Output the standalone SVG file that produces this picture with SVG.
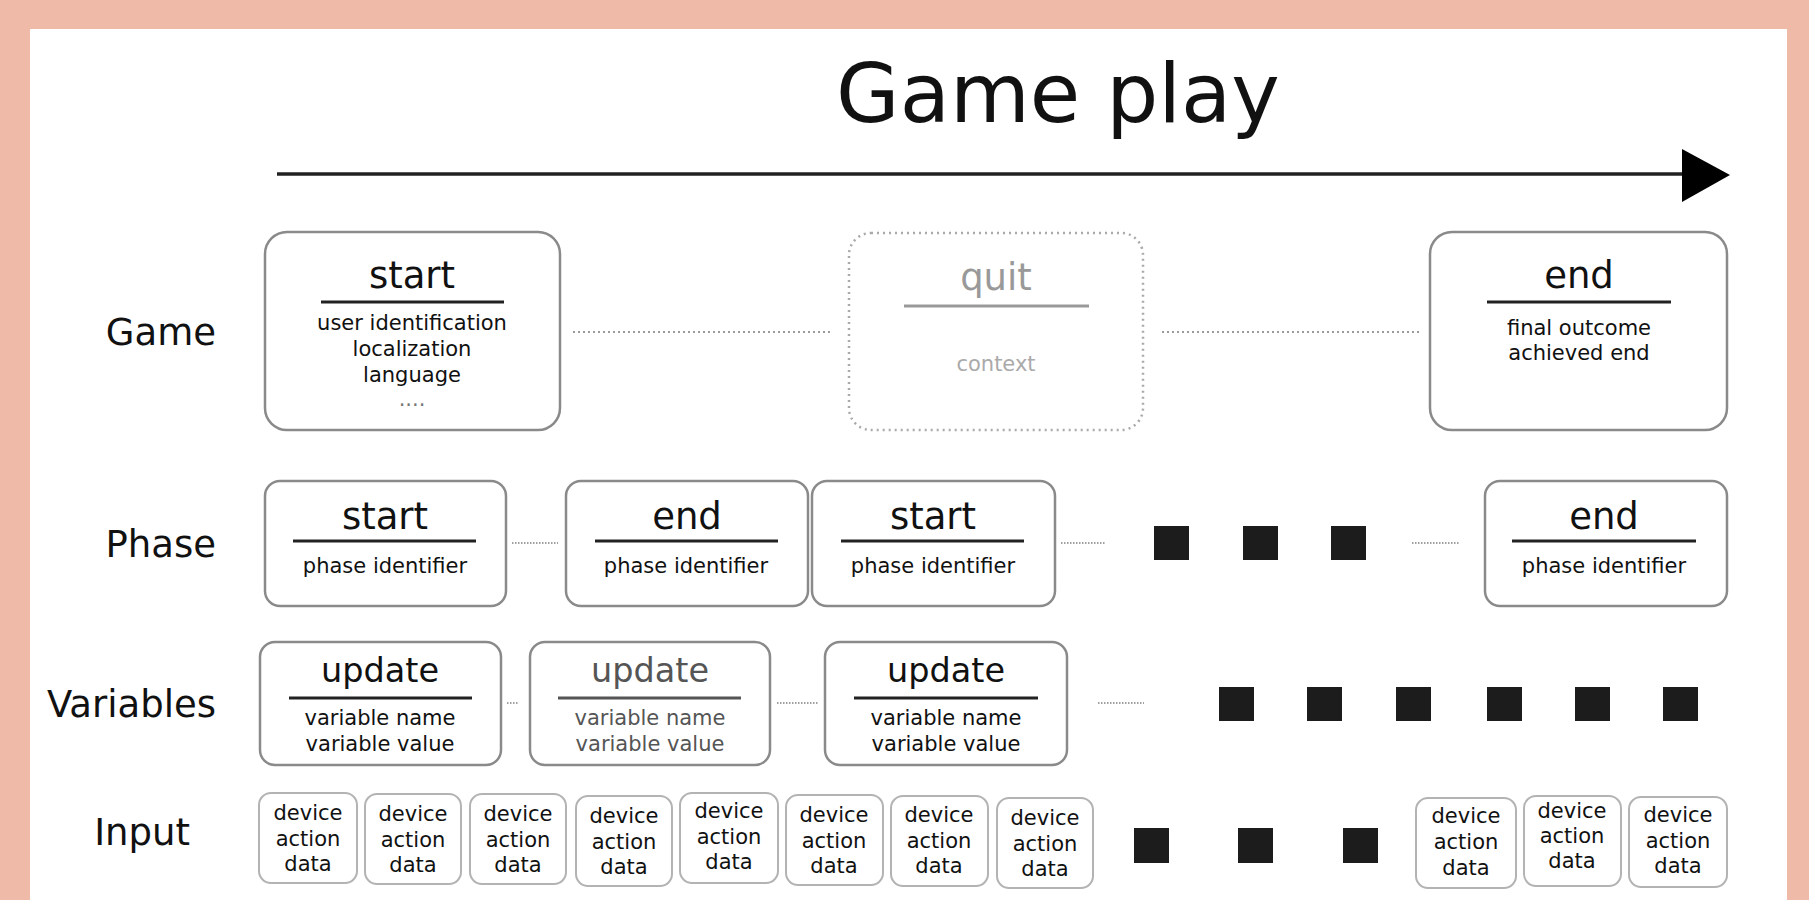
<svg xmlns="http://www.w3.org/2000/svg" width="1809" height="900" viewBox="0 0 1809 900">
<style>
text{font-family:"DejaVu Sans","Liberation Sans",sans-serif;fill:#111}
.lbl{font-size:37px;text-anchor:end}
.title{font-size:82px;text-anchor:middle}
.hd{font-size:37px;text-anchor:middle}
.up{font-size:33.5px;text-anchor:middle}
.bd{font-size:21px;text-anchor:middle}
.box{fill:#fff;stroke:#8a8a8a;stroke-width:2.5}
.ibox{fill:#fff;stroke:#b3b3b3;stroke-width:2}
.qbox{fill:#fff;stroke:#aaa;stroke-width:2.5;stroke-dasharray:2 4}
.rule{stroke:#222;stroke-width:3}
.dots{stroke:#9a9a9a;stroke-width:2;stroke-dasharray:2 3;fill:none}
.dash{stroke:#a0a0a0;stroke-width:2;stroke-dasharray:1.5 1.5;fill:none}
.sq{fill:#1c1c1c}
.faint text{fill:#555}
.faint .rule{stroke:#555}
</style>
<rect width="1809" height="900" fill="#EFBAA8"/>
<rect x="30" y="29" width="1757" height="871" fill="#fff"/>

<g id="title">
<text class="title" x="1058" y="122">Game play</text>
<line x1="277" y1="174" x2="1686" y2="174" stroke="#222" stroke-width="3.5"/>
<polygon points="1682,149 1730,175 1682,202" fill="#000"/>
</g>

<g id="labels">
<text class="lbl" x="216" y="345">Game</text>
<text class="lbl" x="216" y="557">Phase</text>
<text class="lbl" x="216" y="717">Variables</text>
<text class="lbl" x="190" y="845">Input</text>
</g>

<g id="connectors">
<line class="dots" x1="573" y1="332" x2="833" y2="332"/>
<line class="dots" x1="1162" y1="332" x2="1420" y2="332"/>
<line class="dash" x1="512" y1="543" x2="558" y2="543"/>
<line class="dash" x1="1061" y1="543" x2="1106" y2="543"/>
<line class="dash" x1="1412" y1="543" x2="1460" y2="543"/>
<line class="dash" x1="507" y1="703" x2="519" y2="703"/>
<line class="dash" x1="777" y1="703" x2="818" y2="703"/>
<line class="dash" x1="1098" y1="703" x2="1144" y2="703"/>
</g>

<g id="game-start">
<rect class="box" x="265" y="232" width="295" height="198" rx="22"/>
<text class="hd" x="412" y="288">start</text>
<line class="rule" x1="321" y1="302" x2="504" y2="302"/>
<text class="bd" x="412" y="330">user identification</text>
<text class="bd" x="412" y="356">localization</text>
<text class="bd" x="412" y="382">language</text>
<text class="bd" x="412" y="406" style="fill:#777">....</text>
</g>

<g id="game-quit">
<rect class="qbox" x="849" y="233" width="294" height="197" rx="22"/>
<text class="hd" x="996" y="290" style="fill:#999">quit</text>
<line x1="904" y1="306" x2="1089" y2="306" stroke="#999" stroke-width="3"/>
<text class="bd" x="996" y="371" style="fill:#aaa">context</text>
</g>

<g id="game-end">
<rect class="box" x="1430" y="232" width="297" height="198" rx="22"/>
<text class="hd" x="1579" y="288">end</text>
<line class="rule" x1="1487" y1="302" x2="1671" y2="302"/>
<text class="bd" x="1579" y="335">final outcome</text>
<text class="bd" x="1579" y="360">achieved end</text>
</g>

<g id="phase-start-1">
<rect class="box" x="265" y="481" width="241" height="125" rx="15"/>
<text class="hd" x="385" y="529">start</text>
<line class="rule" x1="293" y1="541" x2="476" y2="541"/>
<text class="bd" x="385" y="573">phase identifier</text>
</g>
<g id="phase-end-1">
<rect class="box" x="566" y="481" width="242" height="125" rx="15"/>
<text class="hd" x="687" y="529">end</text>
<line class="rule" x1="595" y1="541" x2="778" y2="541"/>
<text class="bd" x="686" y="573">phase identifier</text>
</g>
<g id="phase-start-2">
<rect class="box" x="812" y="481" width="243" height="125" rx="15"/>
<text class="hd" x="933" y="529">start</text>
<line class="rule" x1="841" y1="541" x2="1024" y2="541"/>
<text class="bd" x="933" y="573">phase identifier</text>
</g>
<g id="phase-more">
<rect class="sq" x="1154" y="526" width="35" height="34"/>
<rect class="sq" x="1243" y="526" width="35" height="34"/>
<rect class="sq" x="1331" y="526" width="35" height="34"/>
</g>
<g id="phase-end-2">
<rect class="box" x="1485" y="481" width="242" height="125" rx="15"/>
<text class="hd" x="1604" y="529">end</text>
<line class="rule" x1="1512" y1="541" x2="1696" y2="541"/>
<text class="bd" x="1604" y="573">phase identifier</text>
</g>

<g id="var-update-1">
<rect class="box" x="260" y="642" width="241" height="123" rx="15"/>
<text class="up" x="380" y="682">update</text>
<line class="rule" x1="289" y1="698" x2="472" y2="698"/>
<text class="bd" x="380" y="725">variable name</text>
<text class="bd" x="380" y="751">variable value</text>
</g>
<g id="var-update-2" class="faint">
<rect class="box" x="530" y="642" width="240" height="123" rx="15"/>
<text class="up" x="650" y="682">update</text>
<line class="rule" x1="558" y1="698" x2="741" y2="698"/>
<text class="bd" x="650" y="725">variable name</text>
<text class="bd" x="650" y="751">variable value</text>
</g>
<g id="var-update-3">
<rect class="box" x="825" y="642" width="242" height="123" rx="15"/>
<text class="up" x="946" y="682">update</text>
<line class="rule" x1="854" y1="698" x2="1038" y2="698"/>
<text class="bd" x="946" y="725">variable name</text>
<text class="bd" x="946" y="751">variable value</text>
</g>
<g id="var-more">
<rect class="sq" x="1219" y="687" width="35" height="34"/>
<rect class="sq" x="1307" y="687" width="35" height="34"/>
<rect class="sq" x="1396" y="687" width="35" height="34"/>
<rect class="sq" x="1487" y="687" width="35" height="34"/>
<rect class="sq" x="1575" y="687" width="35" height="34"/>
<rect class="sq" x="1663" y="687" width="35" height="34"/>
</g>

<g id="input-1"><rect class="ibox" x="259" y="793" width="98" height="90" rx="12"/><text class="bd" x="308" y="820">device</text><text class="bd" x="308" y="846">action</text><text class="bd" x="308" y="871">data</text></g>
<g id="input-2"><rect class="ibox" x="365" y="794" width="96" height="90" rx="12"/><text class="bd" x="413" y="821">device</text><text class="bd" x="413" y="847">action</text><text class="bd" x="413" y="872">data</text></g>
<g id="input-3"><rect class="ibox" x="470" y="794" width="96" height="90" rx="12"/><text class="bd" x="518" y="821">device</text><text class="bd" x="518" y="847">action</text><text class="bd" x="518" y="872">data</text></g>
<g id="input-4"><rect class="ibox" x="576" y="796" width="96" height="90" rx="12"/><text class="bd" x="624" y="823">device</text><text class="bd" x="624" y="849">action</text><text class="bd" x="624" y="874">data</text></g>
<g id="input-5"><rect class="ibox" x="680" y="793" width="98" height="90" rx="12"/><text class="bd" x="729" y="818">device</text><text class="bd" x="729" y="844">action</text><text class="bd" x="729" y="869">data</text></g>
<g id="input-6"><rect class="ibox" x="786" y="795" width="97" height="90" rx="12"/><text class="bd" x="834" y="822">device</text><text class="bd" x="834" y="848">action</text><text class="bd" x="834" y="873">data</text></g>
<g id="input-7"><rect class="ibox" x="891" y="796" width="97" height="90" rx="12"/><text class="bd" x="939" y="822">device</text><text class="bd" x="939" y="848">action</text><text class="bd" x="939" y="873">data</text></g>
<g id="input-8"><rect class="ibox" x="997" y="798" width="96" height="90" rx="12"/><text class="bd" x="1045" y="825">device</text><text class="bd" x="1045" y="851">action</text><text class="bd" x="1045" y="876">data</text></g>
<g id="input-more">
<rect class="sq" x="1134" y="828" width="35" height="35"/>
<rect class="sq" x="1238" y="828" width="35" height="35"/>
<rect class="sq" x="1343" y="828" width="35" height="35"/>
</g>
<g id="input-9"><rect class="ibox" x="1416" y="798" width="100" height="90" rx="12"/><text class="bd" x="1466" y="823">device</text><text class="bd" x="1466" y="849">action</text><text class="bd" x="1466" y="875">data</text></g>
<g id="input-10"><rect class="ibox" x="1524" y="796" width="97" height="90" rx="12"/><text class="bd" x="1572" y="818">device</text><text class="bd" x="1572" y="843">action</text><text class="bd" x="1572" y="868">data</text></g>
<g id="input-11"><rect class="ibox" x="1629" y="797" width="98" height="90" rx="12"/><text class="bd" x="1678" y="822">device</text><text class="bd" x="1678" y="848">action</text><text class="bd" x="1678" y="873">data</text></g>
</svg>
